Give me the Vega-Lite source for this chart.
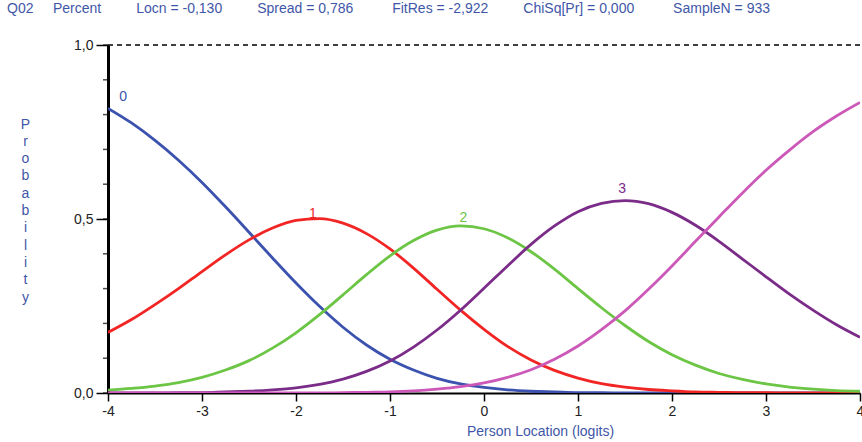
{
  "$schema": "https://vega.github.io/schema/vega-lite/v6.json",
  "width": 752,
  "height": 348,
  "autosize": "none",
  "padding": {"left": 108, "top": 45, "right": 2, "bottom": 49},
  "background": "white",
  "config": {"view": {"stroke": null}, "font": "Liberation Sans"},
  "title": {
    "text": "Q02\u00a0\u00a0\u00a0\u00a0\u00a0Percent\u00a0\u00a0\u00a0\u00a0\u00a0\u00a0\u00a0\u00a0\u00a0Locn = -0,130\u00a0\u00a0\u00a0\u00a0\u00a0\u00a0\u00a0\u00a0\u00a0Spread = 0,786\u00a0\u00a0\u00a0\u00a0\u00a0\u00a0\u00a0\u00a0\u00a0\u00a0FitRes = -2,922\u00a0\u00a0\u00a0\u00a0\u00a0\u00a0\u00a0\u00a0\u00a0ChiSq[Pr] = 0,000\u00a0\u00a0\u00a0\u00a0\u00a0\u00a0\u00a0\u00a0\u00a0\u00a0SampleN = 933",
    "anchor": "start",
    "frame": "group",
    "dx": -101,
    "offset": 22,
    "font": "Liberation Sans",
    "fontSize": 14,
    "fontWeight": "normal",
    "color": "#3f57a8"
  },
  "datasets": {
    "curves": [
      {"x": -4, "c": "0", "p": 0.818}, {"x": -4, "c": "1", "p": 0.174}, {"x": -4, "c": "2", "p": 0.008}, {"x": -4, "c": "3", "p": 0.0}, {"x": -4, "c": "4", "p": 0.0},
      {"x": -3.75, "c": "0", "p": 0.776}, {"x": -3.75, "c": "1", "p": 0.211}, {"x": -3.75, "c": "2", "p": 0.013}, {"x": -3.75, "c": "3", "p": 0.0}, {"x": -3.75, "c": "4", "p": 0.0},
      {"x": -3.5, "c": "0", "p": 0.726}, {"x": -3.5, "c": "1", "p": 0.254}, {"x": -3.5, "c": "2", "p": 0.02}, {"x": -3.5, "c": "3", "p": 0.0}, {"x": -3.5, "c": "4", "p": 0.0},
      {"x": -3.25, "c": "0", "p": 0.669}, {"x": -3.25, "c": "1", "p": 0.3}, {"x": -3.25, "c": "2", "p": 0.03}, {"x": -3.25, "c": "3", "p": 0.001}, {"x": -3.25, "c": "4", "p": 0.0},
      {"x": -3, "c": "0", "p": 0.605}, {"x": -3, "c": "1", "p": 0.349}, {"x": -3, "c": "2", "p": 0.045}, {"x": -3, "c": "3", "p": 0.001}, {"x": -3, "c": "4", "p": 0.0},
      {"x": -2.75, "c": "0", "p": 0.535}, {"x": -2.75, "c": "1", "p": 0.397}, {"x": -2.75, "c": "2", "p": 0.066}, {"x": -2.75, "c": "3", "p": 0.003}, {"x": -2.75, "c": "4", "p": 0.0},
      {"x": -2.5, "c": "0", "p": 0.462}, {"x": -2.5, "c": "1", "p": 0.44}, {"x": -2.5, "c": "2", "p": 0.093}, {"x": -2.5, "c": "3", "p": 0.005}, {"x": -2.5, "c": "4", "p": 0.0},
      {"x": -2.25, "c": "0", "p": 0.388}, {"x": -2.25, "c": "1", "p": 0.474}, {"x": -2.25, "c": "2", "p": 0.129}, {"x": -2.25, "c": "3", "p": 0.009}, {"x": -2.25, "c": "4", "p": 0.0},
      {"x": -2, "c": "0", "p": 0.316}, {"x": -2, "c": "1", "p": 0.496}, {"x": -2, "c": "2", "p": 0.173}, {"x": -2, "c": "3", "p": 0.015}, {"x": -2, "c": "4", "p": 0.0},
      {"x": -1.75, "c": "0", "p": 0.249}, {"x": -1.75, "c": "1", "p": 0.501}, {"x": -1.75, "c": "2", "p": 0.225}, {"x": -1.75, "c": "3", "p": 0.025}, {"x": -1.75, "c": "4", "p": 0.0},
      {"x": -1.5, "c": "0", "p": 0.189}, {"x": -1.5, "c": "1", "p": 0.488}, {"x": -1.5, "c": "2", "p": 0.282}, {"x": -1.5, "c": "3", "p": 0.04}, {"x": -1.5, "c": "4", "p": 0.001},
      {"x": -1.25, "c": "0", "p": 0.138}, {"x": -1.25, "c": "1", "p": 0.458}, {"x": -1.25, "c": "2", "p": 0.34}, {"x": -1.25, "c": "3", "p": 0.062}, {"x": -1.25, "c": "4", "p": 0.002},
      {"x": -1, "c": "0", "p": 0.097}, {"x": -1, "c": "1", "p": 0.414}, {"x": -1, "c": "2", "p": 0.394}, {"x": -1, "c": "3", "p": 0.092}, {"x": -1, "c": "4", "p": 0.003},
      {"x": -0.75, "c": "0", "p": 0.066}, {"x": -0.75, "c": "1", "p": 0.359}, {"x": -0.75, "c": "2", "p": 0.438}, {"x": -0.75, "c": "3", "p": 0.132}, {"x": -0.75, "c": "4", "p": 0.006},
      {"x": -0.5, "c": "0", "p": 0.042}, {"x": -0.5, "c": "1", "p": 0.298}, {"x": -0.5, "c": "2", "p": 0.468}, {"x": -0.5, "c": "3", "p": 0.181}, {"x": -0.5, "c": "4", "p": 0.011},
      {"x": -0.25, "c": "0", "p": 0.026}, {"x": -0.25, "c": "1", "p": 0.238}, {"x": -0.25, "c": "2", "p": 0.48}, {"x": -0.25, "c": "3", "p": 0.238}, {"x": -0.25, "c": "4", "p": 0.018},
      {"x": 0, "c": "0", "p": 0.016}, {"x": 0, "c": "1", "p": 0.183}, {"x": 0, "c": "2", "p": 0.472}, {"x": 0, "c": "3", "p": 0.301}, {"x": 0, "c": "4", "p": 0.029},
      {"x": 0.25, "c": "0", "p": 0.009}, {"x": 0.25, "c": "1", "p": 0.134}, {"x": 0.25, "c": "2", "p": 0.446}, {"x": 0.25, "c": "3", "p": 0.365}, {"x": 0.25, "c": "4", "p": 0.045},
      {"x": 0.5, "c": "0", "p": 0.005}, {"x": 0.5, "c": "1", "p": 0.095}, {"x": 0.5, "c": "2", "p": 0.406}, {"x": 0.5, "c": "3", "p": 0.427}, {"x": 0.5, "c": "4", "p": 0.067},
      {"x": 0.75, "c": "0", "p": 0.003}, {"x": 0.75, "c": "1", "p": 0.065}, {"x": 0.75, "c": "2", "p": 0.356}, {"x": 0.75, "c": "3", "p": 0.48}, {"x": 0.75, "c": "4", "p": 0.097},
      {"x": 1, "c": "0", "p": 0.001}, {"x": 1, "c": "1", "p": 0.043}, {"x": 1, "c": "2", "p": 0.3}, {"x": 1, "c": "3", "p": 0.521}, {"x": 1, "c": "4", "p": 0.135},
      {"x": 1.25, "c": "0", "p": 0.001}, {"x": 1.25, "c": "1", "p": 0.027}, {"x": 1.25, "c": "2", "p": 0.245}, {"x": 1.25, "c": "3", "p": 0.545}, {"x": 1.25, "c": "4", "p": 0.182},
      {"x": 1.5, "c": "0", "p": 0.0}, {"x": 1.5, "c": "1", "p": 0.017}, {"x": 1.5, "c": "2", "p": 0.194}, {"x": 1.5, "c": "3", "p": 0.553}, {"x": 1.5, "c": "4", "p": 0.236},
      {"x": 1.75, "c": "0", "p": 0.0}, {"x": 1.75, "c": "1", "p": 0.01}, {"x": 1.75, "c": "2", "p": 0.148}, {"x": 1.75, "c": "3", "p": 0.544}, {"x": 1.75, "c": "4", "p": 0.298},
      {"x": 2, "c": "0", "p": 0.0}, {"x": 2, "c": "1", "p": 0.006}, {"x": 2, "c": "2", "p": 0.11}, {"x": 2, "c": "3", "p": 0.519}, {"x": 2, "c": "4", "p": 0.365},
      {"x": 2.25, "c": "0", "p": 0.0}, {"x": 2.25, "c": "1", "p": 0.003}, {"x": 2.25, "c": "2", "p": 0.08}, {"x": 2.25, "c": "3", "p": 0.482}, {"x": 2.25, "c": "4", "p": 0.436},
      {"x": 2.5, "c": "0", "p": 0.0}, {"x": 2.5, "c": "1", "p": 0.002}, {"x": 2.5, "c": "2", "p": 0.056}, {"x": 2.5, "c": "3", "p": 0.436}, {"x": 2.5, "c": "4", "p": 0.506},
      {"x": 2.75, "c": "0", "p": 0.0}, {"x": 2.75, "c": "1", "p": 0.001}, {"x": 2.75, "c": "2", "p": 0.039}, {"x": 2.75, "c": "3", "p": 0.385}, {"x": 2.75, "c": "4", "p": 0.575},
      {"x": 3, "c": "0", "p": 0.0}, {"x": 3, "c": "1", "p": 0.001}, {"x": 3, "c": "2", "p": 0.026}, {"x": 3, "c": "3", "p": 0.334}, {"x": 3, "c": "4", "p": 0.64},
      {"x": 3.25, "c": "0", "p": 0.0}, {"x": 3.25, "c": "1", "p": 0.0}, {"x": 3.25, "c": "2", "p": 0.017}, {"x": 3.25, "c": "3", "p": 0.284}, {"x": 3.25, "c": "4", "p": 0.698},
      {"x": 3.5, "c": "0", "p": 0.0}, {"x": 3.5, "c": "1", "p": 0.0}, {"x": 3.5, "c": "2", "p": 0.011}, {"x": 3.5, "c": "3", "p": 0.238}, {"x": 3.5, "c": "4", "p": 0.751},
      {"x": 3.75, "c": "0", "p": 0.0}, {"x": 3.75, "c": "1", "p": 0.0}, {"x": 3.75, "c": "2", "p": 0.007}, {"x": 3.75, "c": "3", "p": 0.196}, {"x": 3.75, "c": "4", "p": 0.796},
      {"x": 4, "c": "0", "p": 0.0}, {"x": 4, "c": "1", "p": 0.0}, {"x": 4, "c": "2", "p": 0.005}, {"x": 4, "c": "3", "p": 0.16}, {"x": 4, "c": "4", "p": 0.835}
    ],
    "labels": [
      {"c": "0", "x": -3.84, "p": 0.85},
      {"c": "1", "x": -1.82, "p": 0.514},
      {"c": "2", "x": -0.22, "p": 0.503},
      {"c": "3", "x": 1.47, "p": 0.586}
    ],
    "yticks": [
      {"v": 0}, {"v": 0.1}, {"v": 0.2}, {"v": 0.3}, {"v": 0.4}, {"v": 0.5}, {"v": 0.6}, {"v": 0.7}, {"v": 0.8}, {"v": 0.9}, {"v": 1}
    ]
  },
  "resolve": {"axis": {"y": "independent"}},
  "layer": [
    {
      "data": {"name": "curves"},
      "mark": {"type": "line", "strokeWidth": 2.8, "interpolate": "monotone", "clip": true},
      "encoding": {
        "x": {
          "field": "x", "type": "quantitative",
          "scale": {"domain": [-4, 4], "nice": false, "zero": false},
          "axis": {
            "values": [-4, -3, -2, -1, 0, 1, 2, 3, 4],
            "labelExpr": "'' + datum.value",
            "title": "Person Location (logits)",
            "titleColor": "#3f57a8",
            "titleFont": "Liberation Sans",
            "titleFontSize": 14,
            "titleFontWeight": "normal",
            "titleAlign": "center",
            "titleX": 432,
            "titleY": 38,
            "titleBaseline": "middle",
            "labelFont": "Liberation Sans",
            "labelFontSize": 14,
            "labelColor": "#222222",
            "labelPadding": 3,
            "labelFlush": false,
            "labelOverlap": false,
            "domainColor": "#000000",
            "domainWidth": 2,
            "tickColor": "#000000",
            "tickWidth": 1.5,
            "tickSize": 8,
            "grid": false
          }
        },
        "y": {
          "field": "p", "type": "quantitative",
          "scale": {"domain": [0, 1], "nice": false},
          "axis": {
            "values": [0, 0.5, 1],
            "labelExpr": "replace(format(datum.value, '.1f'), '.', ',')",
            "tickSize": 12,
            "title": ["P", "r", "o", "b", "a", "b", "i", "l", "i", "t", "y"],
            "titleAngle": 0,
            "titleColor": "#3f57a8",
            "titleFont": "Liberation Sans",
            "titleFontSize": 14,
            "titleFontWeight": "normal",
            "titleLineHeight": 17.3,
            "titleAlign": "center",
            "titleBaseline": "top",
            "titleX": -83,
            "titleY": 72,
            "labelFont": "Liberation Sans",
            "labelFontSize": 14,
            "labelColor": "#222222",
            "labelPadding": 3,
            "labelFlush": false,
            "labelOverlap": false,
            "domainColor": "#000000",
            "domainWidth": 3,
            "tickColor": "#000000",
            "tickWidth": 1.5,
            "grid": false
          }
        },
        "color": {
          "field": "c", "type": "nominal",
          "scale": {"domain": ["0", "1", "2", "3", "4"], "range": ["#3b52ae", "#f22525", "#6cc544", "#7b2c88", "#cc58b8"]},
          "legend": null
        },
        "order": {"field": "x", "type": "quantitative"}
      }
    },
    {
      "data": {"name": "yticks"},
      "mark": {"type": "tick", "orient": "horizontal", "size": 5, "thickness": 1.5, "color": "#000000", "xOffset": -2.5},
      "encoding": {
        "x": {"datum": -4, "type": "quantitative"},
        "y": {"field": "v", "type": "quantitative", "axis": null}
      }
    },
    {
      "data": {"name": "yticks"},
      "transform": [{"filter": "datum.v == 1"}],
      "mark": {"type": "rule", "strokeDash": [5, 4], "strokeWidth": 1.5, "color": "#000000"},
      "encoding": {"y": {"field": "v", "type": "quantitative", "axis": null}}
    },
    {
      "data": {"name": "labels"},
      "mark": {"type": "text", "font": "Liberation Sans", "fontSize": 14, "baseline": "middle", "align": "center"},
      "encoding": {
        "x": {"field": "x", "type": "quantitative"},
        "y": {"field": "p", "type": "quantitative", "axis": null},
        "text": {"field": "c"},
        "color": {"field": "c", "type": "nominal", "legend": null}
      }
    }
  ]
}
